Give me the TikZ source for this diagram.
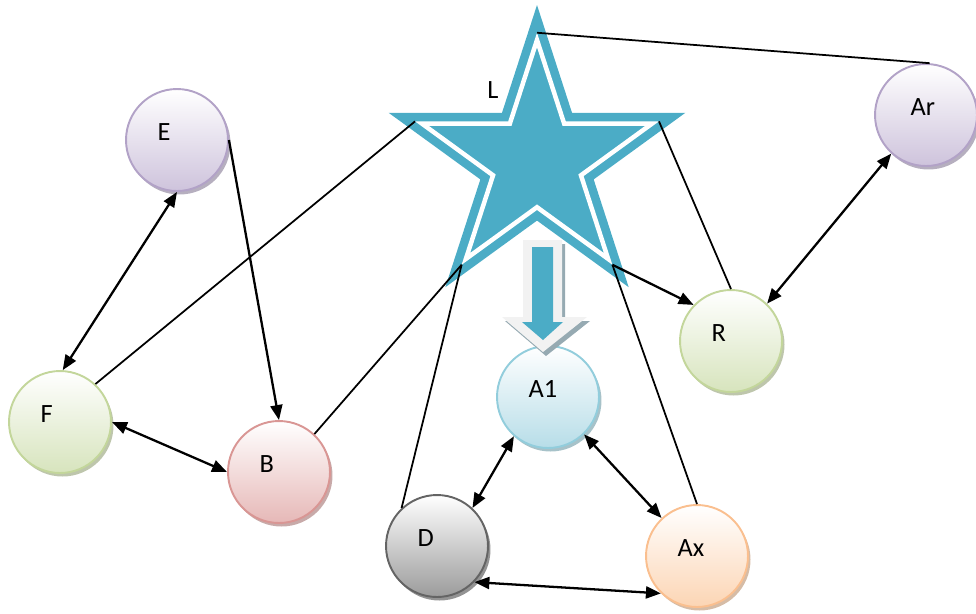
\documentclass[tikz,border=0pt]{standalone}
\usepackage{fontspec}
\setmainfont{Carlito}
\usetikzlibrary{shapes.geometric,shadows,arrows.meta}

\definecolor{starblue}{RGB}{75,172,198}
\definecolor{purpleline}{RGB}{178,162,199}
\definecolor{purplefill}{RGB}{206,195,220}
\definecolor{greenline}{RGB}{195,214,155}
\definecolor{greenfill}{RGB}{215,228,189}
\definecolor{redline}{RGB}{217,150,148}
\definecolor{redfill}{RGB}{230,184,183}
\definecolor{greyline}{RGB}{100,100,100}
\definecolor{greyfill}{RGB}{155,155,155}
\definecolor{blueline}{RGB}{146,205,220}
\definecolor{bluefill}{RGB}{183,221,232}
\definecolor{orangeline}{RGB}{250,191,143}
\definecolor{orangefill}{RGB}{252,213,180}
\definecolor{arrowedge}{RGB}{242,242,242}
\definecolor{arrowshadow}{RGB}{150,170,178}

\begin{document}
\begin{tikzpicture}[x=0.02cm,y=-0.02cm,
    lbl/.style={font=\fontsize{15}{17}\selectfont, inner sep=0},
    ball/.style 2 args={circle, minimum size=2.04cm, inner sep=0,
        lbl, text width=0.78cm, align=left, text height=0.22cm, text depth=0.2cm,
        line width=1.1pt, draw=#1, top color=white, bottom color=#2,
        drop shadow={shadow xshift=0.05cm, shadow yshift=-0.07cm,
            fill=#1!75!black, opacity=0.6}},
    link/.style={line width=1pt},
    one/.style={line width=1.3pt, -{Triangle[length=0.3cm,width=0.24cm]}},
    dbl/.style={line width=1.3pt,
        {Triangle[length=0.3cm,width=0.24cm]}-{Triangle[length=0.3cm,width=0.24cm]}}]
    \useasboundingbox (0,0) rectangle (976,613);

    % the star
    \node[star, star points=5, star point ratio=2.618, minimum size=6.24cm,
        inner sep=0, fill=starblue] (L) at (537,161) {};
    \node[star, star points=5, star point ratio=2.618, minimum size=4.84cm,
        inner sep=0, fill=starblue, draw=white, line width=0.09cm] (Lin) at (537,161) {};
    \node[lbl] (Lname) at (493,90) {L};

    % the circles
    \node[ball={purpleline}{purplefill}] (E) at (177,140) {E};
    \node[ball={greenline}{greenfill}] (F) at (60,422) {F};
    \node[ball={redline}{redfill}] (B) at (279,472) {B};
    \node[ball={greyline}{greyfill}] (D) at (437,546) {D};
    \node[ball={blueline}{bluefill}] (A1) at (548,397) {A1};
    \node[ball={orangeline}{orangefill}] (Ax) at (697,556) {Ax};
    \node[ball={greenline}{greenfill}] (R) at (731,341) {R};
    \node[ball={purpleline}{purplefill}] (Ar) at (926,115) {\hspace*{0.08cm}Ar};

    % block arrow down to A1
    \fill[arrowshadow] (526,244) -- (565,244) -- (565,321) -- (590,321)
        -- (546,356) -- (505,321) -- (526,321) -- cycle;
    \fill[arrowedge] (523,240) -- (562,240) -- (562,317) -- (587,317)
        -- (543,352) -- (502,317) -- (523,317) -- cycle;
    \fill[starblue] (532,247) -- (553,247) -- (553,322) -- (563,322)
        -- (543,340) -- (522,322) -- (532,322) -- cycle;

    % connectors
    \draw[dbl] (F.87) -- (E.-90);
    \draw[one] (E.0) -- (B.90);
    \draw[dbl] (F.0) -- (B.180);
    \draw[link] (F.47) -- (Lin.outer point 2);
    \draw[link] (B.47) -- (Lin.outer point 3);
    \draw[link] (D.133) -- (Lin.outer point 3);
    \draw[dbl] (A1.229) -- (D.47);
    \draw[dbl] (A1.-46) -- (Ax.133);
    \draw[dbl] (D.-44) -- (Ax.-134);
    \draw[link] (Ax.90) -- (Lin.outer point 4);
    \draw[one] (Lin.outer point 4) -- (R.136);
    \draw[link] (R.90) -- (Lin.outer point 5);
    \draw[dbl] (R.46) -- (Ar.-132);
    \draw[link] (Lin.outer point 1) -- (Ar.86);
\end{tikzpicture}
\end{document}
